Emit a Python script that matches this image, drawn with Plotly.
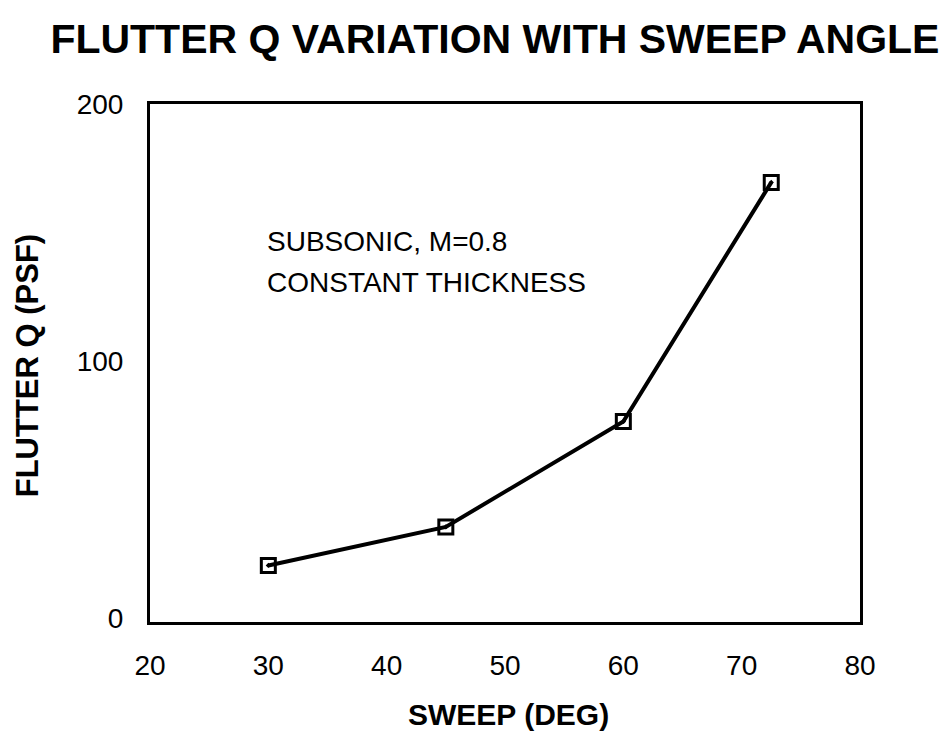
import plotly.graph_objects as go

sweep_deg = [30, 45, 60, 72.5]
flutter_q_psf = [20.5, 35.5, 76.5, 169.5]

x_ticks = [20, 30, 40, 50, 60, 70, 80]
y_ticks = [0, 100, 200]

title_text = "FLUTTER Q VARIATION WITH SWEEP ANGLE"
x_title = "SWEEP (DEG)"
y_title = "FLUTTER Q (PSF)"
note_lines = ["SUBSONIC, M=0.8", "CONSTANT THICKNESS"]

FONT = "Liberation Sans, Arial, sans-serif"

fig = go.Figure()
fig.add_trace(go.Scatter(
    x=sweep_deg, y=flutter_q_psf, mode="lines+markers",
    line=dict(color="black", width=4),
    marker=dict(symbol="square-open-dot", size=14, color="black",
                line=dict(color="black", width=3)),
    showlegend=False,
))

fig.update_layout(
    width=940, height=724,
    paper_bgcolor="white", plot_bgcolor="white",
    margin=dict(l=142, r=88, t=96, b=110, autoexpand=False),
    font=dict(family=FONT, color="black"),
    title=dict(text=f"<b>{title_text}</b>", x=0.518, xanchor="center",
               y=0.957, yanchor="middle", font=dict(size=41, family=FONT)),
    xaxis=dict(range=[20, 80], tickvals=x_ticks, ticks="", showgrid=False,
               zeroline=False, showline=True, linecolor="black", linewidth=3,
               mirror=True, tickfont=dict(size=28), ticklabelstandoff=16,
               automargin=False),
    yaxis=dict(range=[-1.5, 200], tickvals=y_ticks, ticks="", showgrid=False,
               zeroline=False, showline=True, linecolor="black", linewidth=3,
               mirror=True, tickfont=dict(size=28), ticklabelstandoff=18,
               automargin=False),
    annotations=[
        dict(text=f"<b>{x_title}</b>", x=0.505, y=-0.178, xref="paper", yref="paper",
             xanchor="center", yanchor="middle", showarrow=False,
             font=dict(size=30, family=FONT)),
        dict(text=f"<b>{y_title}</b>", x=-0.173, y=0.494, xref="paper", yref="paper",
             xanchor="center", yanchor="middle", showarrow=False, textangle=-90,
             font=dict(size=31, family=FONT)),
        dict(text=note_lines[0], x=0.162, y=0.734, xref="paper", yref="paper",
             xanchor="left", yanchor="middle", align="left", showarrow=False,
             font=dict(size=28, family=FONT)),
        dict(text=note_lines[1], x=0.162, y=0.656, xref="paper", yref="paper",
             xanchor="left", yanchor="middle", align="left", showarrow=False,
             font=dict(size=28, family=FONT)),
    ],
)

fig.write_html("out.html")
